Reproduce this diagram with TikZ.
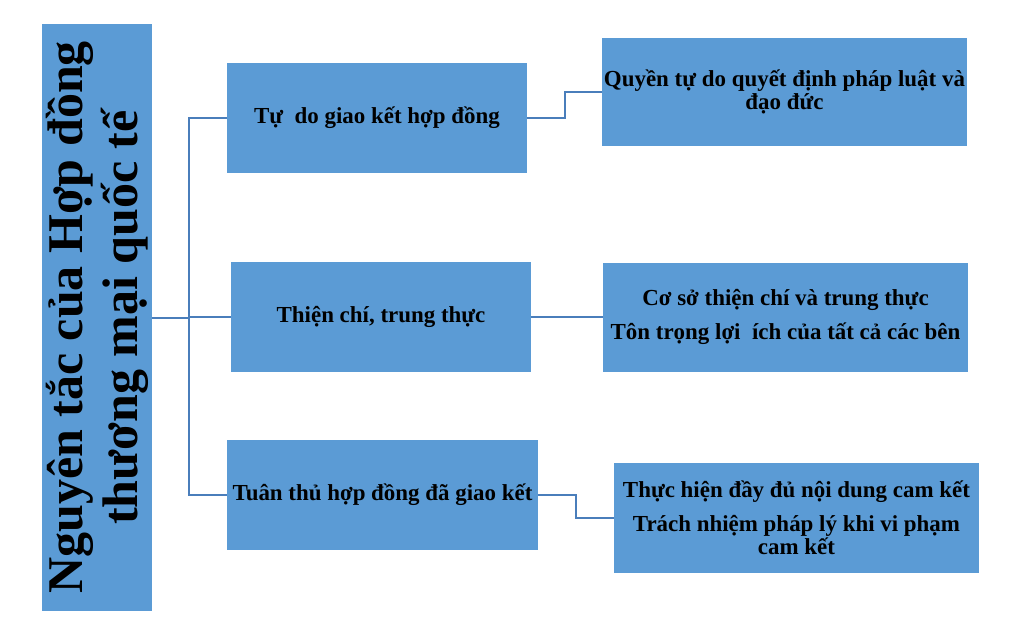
\documentclass[tikz,border=0pt]{standalone}
\usepackage{fontspec}
\setmainfont{Liberation Serif}
\usepackage{xcolor}
\usepackage{tikz}
\definecolor{boxblue}{HTML}{5B9BD5}
\definecolor{lineblue}{HTML}{4A7EBB}

\begin{document}
\begin{tikzpicture}[
	x=0.75pt, y=-0.75pt,
	font=\bfseries\fontsize{17.2}{17.5}\selectfont
]
\tikzset{
    mybox/.style = {rectangle, fill=boxblue, align=center, inner xsep=0pt, inner ysep=2pt, minimum height=82.5pt},
    myboxm/.style = {rectangle, fill=boxblue, align=center, inner sep=0pt, rotate=90, font=\bfseries\fontsize{37.5}{41.4}\selectfont},
    edgen/.style = {-, line width=1.5pt, lineblue},
}
\useasboundingbox (0,0) rectangle (1020,624);
\node[myboxm, minimum width=440.25pt, minimum height=82.5pt] at (97,317.5) (main) {Nguyên tắc của Hợp đồng\\thương mại quốc tế};
%
\node[mybox, minimum width=225pt] at (377,118) (a) {Tự\ \ do giao kết hợp đồng};
\node[mybox, minimum width=225pt] at (381,317) (b) {Thiện chí, trung thực};
\node[mybox, minimum width=233.25pt] at (382.5,495) (c) {Tuân thủ hợp đồng đã giao kết};
%
\node[mybox, minimum width=273.75pt, minimum height=81pt] at (784.5,92) (r1) {Quyền tự do quyết định pháp luật và\\đạo đức};
\node[mybox, minimum width=273.75pt, minimum height=81.75pt] at (785.5,317) (r2) {Cơ sở thiện chí và trung thực\\[7.5pt]Tôn trọng lợi\ \ ích của tất cả các bên};
\node[mybox, minimum width=273.75pt] at (796.5,518) (r3) {Thực hiện đầy đủ nội dung cam kết\\[7.5pt]Trách nhiệm pháp lý khi vi phạm\\cam kết};
%
\coordinate (t) at (189,317.5);
\draw[edgen] (main.south) -- (t);
\draw[edgen] (t) |- (a.west);
\draw[edgen] (t) |- (b.west);
\draw[edgen] (t) |- (c.west);
%
\draw[edgen] (a.east) -- ++(38,0) |- (r1.west);
\draw[edgen] (b.east) -- (r2.west);
\draw[edgen] (c.east) -- ++(38,0) |- (r3.west);
\end{tikzpicture}
\end{document}
